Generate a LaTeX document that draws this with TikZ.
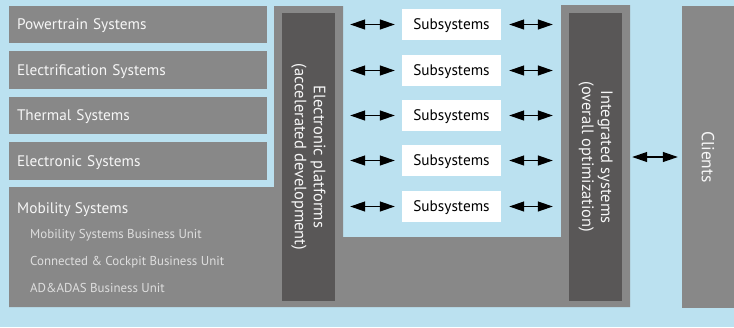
\documentclass[tikz,border=0pt]{standalone}
\usepackage{fontspec}
\setmainfont{PT Sans}
\usetikzlibrary{arrows.meta}
\definecolor{bgblue}{RGB}{187,225,240}
\definecolor{sysgray}{RGB}{136,136,136}
\definecolor{darkgray}{RGB}{89,87,87}
\definecolor{lighttext}{RGB}{246,246,246}
\definecolor{subtext}{RGB}{222,222,222}
\begin{document}
\begin{tikzpicture}[x=1pt, y=-1pt,
  sysbox/.style={fill=sysgray, text=lighttext, minimum width=258pt, minimum height=37.5pt, text width=242pt, inner xsep=8pt, text depth=0pt, align=left, font=\fontsize{15.3}{18}\selectfont},
  subbox/.style={fill=white, text=black, minimum width=99pt, minimum height=31pt, inner sep=0pt, text depth=0pt, font=\fontsize{15.3}{18}\selectfont},
  colbox/.style={fill=darkgray, text=lighttext, rotate=-90, minimum height=53pt, inner sep=0pt, align=center, font=\fontsize{16.5}{19}\selectfont},
  unit/.style={text=subtext, anchor=west, inner sep=0pt, text depth=0pt, font=\fontsize{12.9}{15}\selectfont},
  biarrow/.style={{Triangle[length=15pt,width=10pt]}-{Triangle[length=15pt,width=10pt]}, line width=1.2pt}]
\useasboundingbox (0,0) rectangle (734,327);
\fill[bgblue] (0,0) rectangle (734,327);
\fill[sysgray] (9,187) -| (274,6) -| (343,237) -| (561,5) -| (630,307) -| cycle;
\node[sysbox] (sys0) at (138,24.5) {Powertrain Systems};
\node[sysbox] (sys1) at (138,70) {Electrification Systems};
\node[sysbox] (sys2) at (138,115.5) {Thermal Systems};
\node[sysbox] (sys3) at (138,161) {Electronic Systems};
\node[unit, text=lighttext, font=\fontsize{15.3}{18}\selectfont] (mob) at (17,208) {Mobility Systems};
\node[unit] (mob0) at (30,234) {Mobility Systems Business Unit};
\node[unit] (mob1) at (30,261) {Connected \& Cockpit Business Unit};
\node[unit] (mob2) at (30,288) {AD\&ADAS Business Unit};
\node[colbox, minimum width=288pt] (plat) at (308.5,157) {Electronic platforms\\(accelerated development)};
\node[colbox, minimum width=288pt] (integ) at (595.5,157) {Integrated systems\\(overall optimization)};
\node[colbox, fill=sysgray, minimum width=302pt, minimum height=52pt, font=\fontsize{17.5}{20}\selectfont] (cli) at (708,157) {Clients};
\node[subbox] (sub0) at (451.5,24.5) {Subsystems};
\node[subbox] (sub1) at (451.5,70.5) {Subsystems};
\node[subbox] (sub2) at (451.5,115.5) {Subsystems};
\node[subbox] (sub3) at (451.5,160.5) {Subsystems};
\node[subbox] (sub4) at (451.5,206.5) {Subsystems};
\draw[biarrow, shorten <=15pt, shorten >=7pt] (plat.north |- sub0) -- (sub0.west);
\draw[biarrow, shorten <=15pt, shorten >=7pt] (plat.north |- sub1) -- (sub1.west);
\draw[biarrow, shorten <=15pt, shorten >=7pt] (plat.north |- sub2) -- (sub2.west);
\draw[biarrow, shorten <=15pt, shorten >=7pt] (plat.north |- sub3) -- (sub3.west);
\draw[biarrow, shorten <=15pt, shorten >=7pt] (plat.north |- sub4) -- (sub4.west);
\draw[biarrow, shorten <=8pt, shorten >=16pt] (sub0.east) -- (integ.south |- sub0);
\draw[biarrow, shorten <=8pt, shorten >=16pt] (sub1.east) -- (integ.south |- sub1);
\draw[biarrow, shorten <=8pt, shorten >=16pt] (sub2.east) -- (integ.south |- sub2);
\draw[biarrow, shorten <=8pt, shorten >=16pt] (sub3.east) -- (integ.south |- sub3);
\draw[biarrow, shorten <=8pt, shorten >=16pt] (sub4.east) -- (integ.south |- sub4);
\draw[biarrow, shorten <=10pt, shorten >=4pt] (integ.north) -- (cli.south);
\end{tikzpicture}
\end{document}
